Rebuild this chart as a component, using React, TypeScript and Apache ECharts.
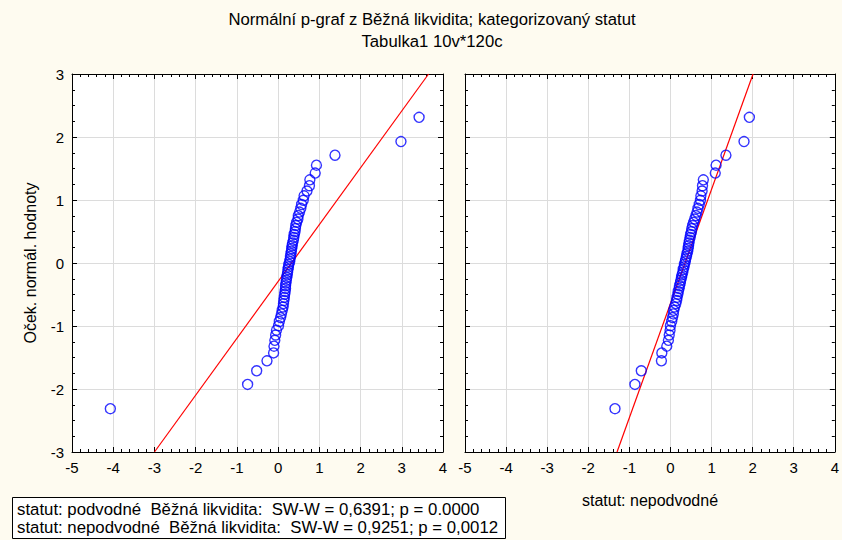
import React, { useEffect, useRef } from "react";
import * as echarts from "echarts";

// Expected normal values (y), same ranks in both panels
const expectedNormal = [
  -2.312, -1.927, -1.711, -1.553, -1.427, -1.32, -1.227, -1.143, -1.066, -0.995,
  -0.929, -0.867, -0.808, -0.752, -0.698, -0.645, -0.595, -0.546, -0.498, -0.452,
  -0.406, -0.361, -0.317, -0.274, -0.231, -0.188, -0.146, -0.104, -0.062, -0.021,
  0.021, 0.062, 0.104, 0.146, 0.188, 0.231, 0.274, 0.317, 0.361, 0.406,
  0.452, 0.498, 0.546, 0.595, 0.645, 0.698, 0.752, 0.808, 0.867, 0.929,
  0.995, 1.066, 1.143, 1.227, 1.32, 1.427, 1.553, 1.711, 1.927, 2.312,
];

// Observed values (Běžná likvidita), statut: podvodné
const podvodneX = [
  -4.07, -0.74, -0.52, -0.27, -0.11, -0.1, -0.08, -0.06, -0.04, 0.01,
  0.03, 0.06, 0.08, 0.1, 0.12, 0.13, 0.14, 0.15, 0.16, 0.17,
  0.18, 0.18, 0.19, 0.2, 0.21, 0.22, 0.23, 0.24, 0.25, 0.26,
  0.28, 0.29, 0.3, 0.31, 0.32, 0.33, 0.34, 0.35, 0.37, 0.38,
  0.39, 0.41, 0.42, 0.43, 0.45, 0.48, 0.49, 0.52, 0.55, 0.57,
  0.61, 0.63, 0.7, 0.76, 0.77, 0.9, 0.93, 1.38, 2.98, 3.42,
];

// Observed values (Běžná likvidita), statut: nepodvodné
const nepodvodneX = [
  -1.35, -0.865, -0.71, -0.22, -0.21, -0.09, -0.05, -0.03, -0.01, 0.0,
  0.03, 0.05, 0.07, 0.08, 0.1, 0.13, 0.15, 0.16, 0.18, 0.19,
  0.21, 0.22, 0.24, 0.25, 0.27, 0.28, 0.3, 0.31, 0.33, 0.34,
  0.36, 0.37, 0.39, 0.4, 0.42, 0.43, 0.44, 0.45, 0.46, 0.48,
  0.49, 0.51, 0.52, 0.54, 0.565, 0.59, 0.62, 0.645, 0.67, 0.7,
  0.73, 0.74, 0.77, 0.78, 0.8, 1.09, 1.11, 1.35, 1.79, 1.92,
];

// Fitted normal lines: endpoints [x, y]
const podvodneLine = [
  [-3.0, -3],
  [3.65, 3],
];
const nepodvodneLine = [
  [-1.3, -3],
  [2.01, 3],
];

const xTicks = [-5, -4, -3, -2, -1, 0, 1, 2, 3, 4];
const yTicks = [-3, -2, -1, 0, 1, 2, 3];

const titleLine1 = "Normální p-graf z Běžná likvidita; kategorizovaný statut";
const titleLine2 = "Tabulka1 10v*120c";
const yAxisTitle = "Oček. normál. hodnoty";
const panelLabel = "statut: nepodvodné";
const legendLines = [
  "statut: podvodné  Běžná likvidita:  SW-W = 0,6391; p = 0.0000",
  "statut: nepodvodné  Běžná likvidita:  SW-W = 0,9251; p = 0,0012",
];

const FONT = "'Liberation Sans', Arial, sans-serif";

export default function App() {
  const ref = useRef<HTMLDivElement>(null);

  useEffect(() => {
    if (!ref.current) return;
    const chart = echarts.init(ref.current, null, { renderer: "svg" });

    const grids = [
      { left: 72, top: 74, width: 371, height: 378 },
      { left: 465, top: 74, width: 371, height: 378 },
    ];

    const axisLine = { show: true, onZero: false, lineStyle: { color: "#000", width: 1 } };
    const xAxes: any[] = [];
    const yAxes: any[] = [];
    grids.forEach((g, i) => {
      const base = {
        type: "value",
        gridIndex: i,
        axisLine,
        axisTick: { show: true, inside: true, length: 5, lineStyle: { color: "#000" } },
        minorTick: { show: true, splitNumber: 5, length: 3, lineStyle: { color: "#000" } },
      };
      xAxes.push({
        ...base,
        position: "bottom",
        min: xTicks[0],
        max: xTicks[xTicks.length - 1],
        interval: 1,
        axisLabel: {
          show: true,
          color: "#000",
          fontSize: 15,
          fontFamily: FONT,
          margin: 8,
          showMinLabel: true,
          showMaxLabel: true,
        },
        splitLine: { show: true, lineStyle: { color: "#dcdcdc", width: 1 } },
      });
      xAxes.push({
        ...base,
        position: "top",
        min: xTicks[0],
        max: xTicks[xTicks.length - 1],
        interval: 1,
        axisLabel: { show: false },
        splitLine: { show: false },
      });
      yAxes.push({
        ...base,
        position: "left",
        min: yTicks[0],
        max: yTicks[yTicks.length - 1],
        interval: 1,
        minorTick: { show: true, splitNumber: 4, length: 3, lineStyle: { color: "#000" } },
        axisLabel: {
          show: i === 0,
          color: "#000",
          fontSize: 15,
          fontFamily: FONT,
          margin: 8,
        },
        splitLine: { show: true, lineStyle: { color: "#dcdcdc", width: 1 } },
      });
      yAxes.push({
        ...base,
        position: "right",
        min: yTicks[0],
        max: yTicks[yTicks.length - 1],
        interval: 1,
        minorTick: { show: true, splitNumber: 4, length: 3, lineStyle: { color: "#000" } },
        axisLabel: { show: false },
        splitLine: { show: false },
      });
    });

    const scatterStyle = {
      type: "scatter",
      symbol: "circle",
      symbolSize: 10,
      itemStyle: { color: "rgba(0,0,0,0)", borderColor: "#0000ff", borderWidth: 1.4 },
      emphasis: { disabled: true },
      z: 3,
    };
    const lineStyle = {
      type: "line",
      showSymbol: false,
      symbol: "none",
      lineStyle: { color: "#ff0000", width: 1.2 },
      clip: true,
      z: 2,
    };

    const txt = (text: string, x: number, y: number, size: number, align = "center", extra: any = {}) => ({
      type: "text",
      x,
      y,
      z: 6,
      ...extra,
      style: {
        text,
        fill: "#000",
        font: `${size}px ${FONT}`,
        textAlign: align,
        textVerticalAlign: "middle",
      },
    });

    const option: any = {
      animation: false,
      backgroundColor: "#fefbf0",
      textStyle: { fontFamily: FONT },
      grid: grids.map((g) => ({
        ...g,
        show: true,
        backgroundColor: "#ffffff",
        borderWidth: 0,
        containLabel: false,
      })),
      xAxis: xAxes,
      yAxis: yAxes,
      series: [
        { ...lineStyle, xAxisIndex: 0, yAxisIndex: 0, data: podvodneLine },
        {
          ...scatterStyle,
          xAxisIndex: 0,
          yAxisIndex: 0,
          data: podvodneX.map((x, i) => [x, expectedNormal[i]]),
        },
        { ...lineStyle, xAxisIndex: 2, yAxisIndex: 2, data: nepodvodneLine },
        {
          ...scatterStyle,
          xAxisIndex: 2,
          yAxisIndex: 2,
          data: nepodvodneX.map((x, i) => [x, expectedNormal[i]]),
        },
      ],
      graphic: [
        txt(titleLine1, 432, 19, 16.7),
        txt(titleLine2, 432, 41, 16.7),
        txt(yAxisTitle, 30, 263, 16, "center", { rotation: Math.PI / 2 }),
        txt(panelLabel, 650, 500, 16),
        {
          type: "rect",
          z: 5,
          shape: { x: 12.5, y: 497.5, width: 493, height: 41 },
          style: { fill: "#ffffff", stroke: "#000", lineWidth: 1 },
        },
        txt(legendLines[0], 17, 509, 16.8, "left"),
        txt(legendLines[1], 17, 527, 16.8, "left"),
      ],
    };

    chart.setOption(option);
    return () => chart.dispose();
  }, []);

  return (
    <div
      ref={ref}
      style={{ position: "absolute", left: 0, top: 0, width: 842, height: 540 }}
    />
  );
}
